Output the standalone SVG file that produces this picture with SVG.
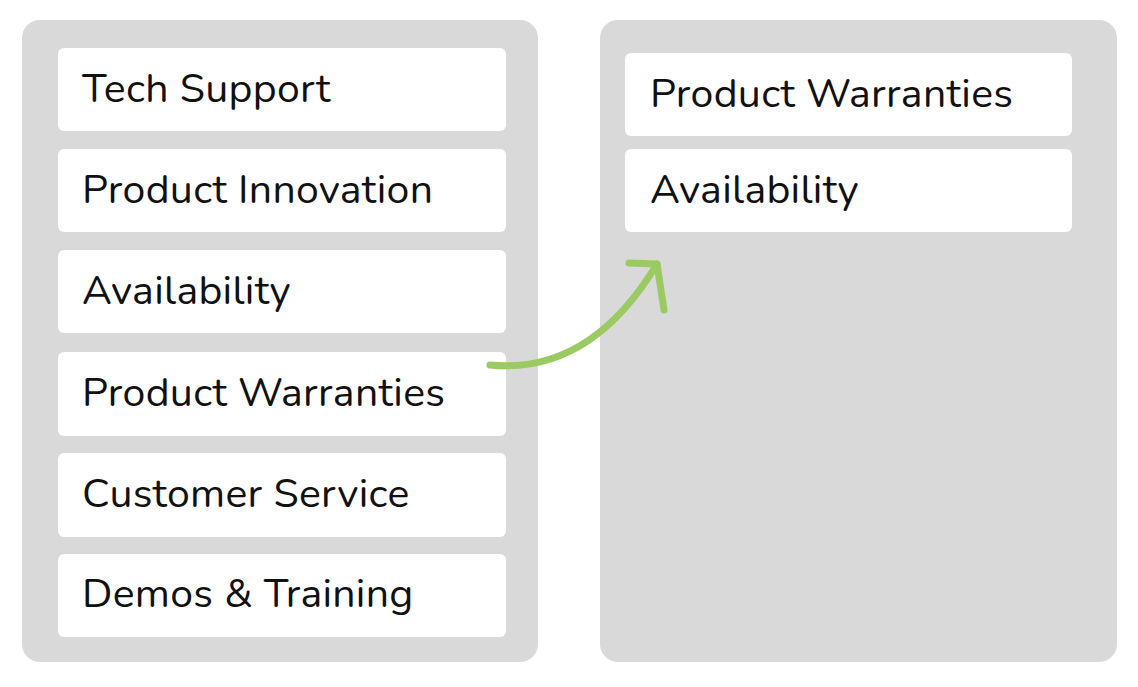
<svg xmlns="http://www.w3.org/2000/svg" width="1138" height="687" viewBox="0 0 1138 687">
<style>
.panel{fill:#d9d9d9}
.card{fill:#fff}
.t{font-family:"Nunito","Open Sans","Liberation Sans",sans-serif;font-size:41px;fill:#111;letter-spacing:0.3px}
.arr{fill:none;stroke:#9bca62;stroke-width:7;stroke-linecap:round;stroke-linejoin:round}
</style>
<rect width="1138" height="687" fill="#fff"/>
<g id="left-panel"><rect class="panel" x="22" y="20" width="516" height="642" rx="18"/></g>
<g id="right-panel"><rect class="panel" x="600" y="20" width="517" height="642" rx="18"/></g>
<g id="tech-support"><rect class="card" x="58" y="48" width="448" height="83" rx="6"/><text class="t" x="82" y="102">Tech Support</text></g>
<g id="product-innovation"><rect class="card" x="58" y="149" width="448" height="83" rx="6"/><text class="t" x="82" y="203">Product Innovation</text></g>
<g id="availability"><rect class="card" x="58" y="250" width="448" height="83" rx="6"/><text class="t" x="82" y="304">Availability</text></g>
<g id="product-warranties"><rect class="card" x="58" y="352" width="448" height="84" rx="6"/><text class="t" x="82" y="406">Product Warranties</text></g>
<g id="customer-service"><rect class="card" x="58" y="453" width="448" height="84" rx="6"/><text class="t" x="82" y="507">Customer Service</text></g>
<g id="demos-training"><rect class="card" x="58" y="554" width="448" height="83" rx="6"/><text class="t" x="82" y="607">Demos &amp; Training</text></g>
<g id="r-product-warranties"><rect class="card" x="625" y="53" width="447" height="83" rx="6"/><text class="t" x="650" y="107">Product Warranties</text></g>
<g id="r-availability"><rect class="card" x="625" y="149" width="447" height="83" rx="6"/><text class="t" x="650" y="203">Availability</text></g>
<g id="connectors">
<path class="arr" d="M490 365 Q590 375 657 264"/>
<path class="arr" d="M629 263 L657 264 L664 310"/>
</g>
</svg>
